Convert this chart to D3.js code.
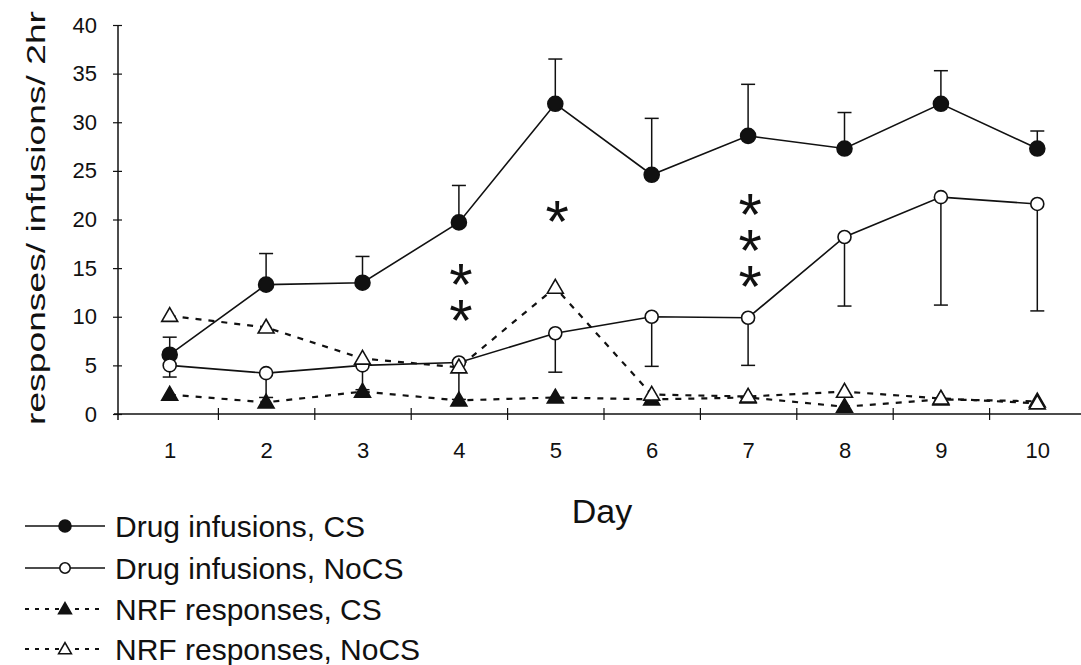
<!DOCTYPE html>
<html>
<head>
<meta charset="utf-8">
<script src="https://cdn.jsdelivr.net/npm/d3@7/dist/d3.min.js"></script>
<style>
  body { margin: 0; background: #fff; }
  svg { display: block; }
</style>
</head>
<body>
<div id="chart"></div>
<script>
// data
const days = [1, 2, 3, 4, 5, 6, 7, 8, 9, 10];
const drugCS = [6.1, 13.3, 13.5, 19.7, 31.9, 24.6, 28.6, 27.3, 31.9, 27.3];
const drugCSErr = [1.8, 3.2, 2.7, 3.8, 4.6, 5.8, 5.3, 3.7, 3.4, 1.8];
const drugNoCS = [5.0, 4.2, 5.0, 5.3, 8.3, 10.0, 9.9, 18.2, 22.3, 21.6];
const drugNoCSErr = [1.2, 2.5, 2.5, 3.8, 4.0, 5.1, 4.9, 7.1, 11.1, 11.0];
const nrfCS = [2.0, 1.2, 2.3, 1.4, 1.7, 1.5, 1.7, 0.75, 1.5, 1.3];
const nrfNoCS = [10.1, 8.9, 5.7, 4.8, 13.0, 2.0, 1.8, 2.3, 1.6, 1.1];
const yTicks = [0, 5, 10, 15, 20, 25, 30, 35, 40];
const legendLabels = ["Drug infusions, CS", "Drug infusions, NoCS", "NRF responses, CS", "NRF responses, NoCS"];
// significance stars: day, how many, value level of the top star
const sigDays = [4, 5, 7];
const sigCounts = [2, 1, 3];
const sigLevels = [14.8, 21.3, 22.0];

const width = 1081, height = 665;
const font = "'Liberation Sans', Arial, sans-serif";

const svg = d3.select("#chart").append("svg")
    .attr("width", width)
    .attr("height", height)
    .style("background", "#fff");

const x = d3.scaleLinear().domain([0.5, 10.5]).range([121.5, 1085.5]);
const y = d3.scaleLinear().domain([0, 40]).range([414, 25]);
const axisX = 118;

// y axis
const yAxis = svg.append("g")
    .attr("transform", `translate(${axisX},0)`)
    .call(d3.axisLeft(y).tickValues(yTicks).tickSize(5).tickPadding(16));
yAxis.select(".domain").remove();
yAxis.append("line")
    .attr("y1", y(40)).attr("y2", y(0) + 6)
    .attr("stroke", "#111").attr("stroke-width", 1.5);
yAxis.selectAll(".tick line").attr("x1", 4).attr("x2", -5).attr("stroke", "#111").attr("stroke-width", 1.2);
yAxis.selectAll(".tick text")
    .attr("font-family", font).attr("font-size", 22).attr("fill", "#111");

// x axis: boundary ticks + day labels
const xTickG = svg.append("g")
    .attr("transform", `translate(0,${y(0)})`)
    .call(d3.axisBottom(x).tickValues(days.slice(0, 9).map(d => d + 0.5)).tickSize(6).tickFormat(""));
xTickG.select(".domain").remove();
xTickG.selectAll(".tick line").attr("y1", -6).attr("y2", 6).attr("stroke", "#111").attr("stroke-width", 1.2);
xTickG.append("line")
    .attr("x1", axisX - 4).attr("x2", width)
    .attr("stroke", "#111").attr("stroke-width", 1.5);

const xLab = svg.append("g")
    .attr("transform", `translate(0,${y(0)})`)
    .call(d3.axisBottom(x).tickValues(days).tickSize(0).tickPadding(28).tickFormat(d3.format("d")));
xLab.select(".domain").remove();
xLab.selectAll(".tick text")
    .attr("font-family", font).attr("font-size", 22).attr("fill", "#111");

// axis titles
svg.append("text")
    .attr("x", 602).attr("y", 523)
    .attr("text-anchor", "middle")
    .attr("font-family", font).attr("font-size", 34).attr("fill", "#111")
    .text("Day");

svg.append("text")
    .attr("transform", "translate(45,218) rotate(-90)")
    .attr("text-anchor", "middle")
    .attr("font-family", font).attr("font-size", 25).attr("fill", "#111")
    .attr("textLength", 414).attr("lengthAdjust", "spacingAndGlyphs")
    .text("responses/ infusions/ 2hr");

// error bars
const capW = 7;
function errBars(vals, errs, dir) {
    const g = svg.append("g").attr("stroke", "#111").attr("stroke-width", 1.5);
    days.forEach((d, i) => {
        const y0 = y(vals[i]), y1 = y(vals[i] + dir * errs[i]);
        g.append("line").attr("x1", x(d)).attr("x2", x(d)).attr("y1", y0).attr("y2", y1);
        g.append("line").attr("x1", x(d) - capW).attr("x2", x(d) + capW).attr("y1", y1).attr("y2", y1);
    });
}
errBars(drugCS, drugCSErr, 1);
errBars(drugNoCS, drugNoCSErr, -1);

// lines
const line = d3.line().x((v, i) => x(days[i])).y(v => y(v));
const series = [
    { vals: drugCS, dash: null, shape: "circle", fill: "#111" },
    { vals: drugNoCS, dash: null, shape: "circle", fill: "#fff" },
    { vals: nrfCS, dash: "6,7", shape: "triangle", fill: "#111" },
    { vals: nrfNoCS, dash: "6,7", shape: "triangle", fill: "#fff" }
];

series.forEach(s => {
    svg.append("path")
        .attr("d", line(s.vals))
        .attr("fill", "none")
        .attr("stroke", "#111")
        .attr("stroke-width", s.dash ? 2.2 : 1.6)
        .attr("stroke-dasharray", s.dash);
});

const triPath = d3.symbol().type(d3.symbolTriangle);
function marker(g, shape, fill, cx, cy, scale) {
    if (shape === "circle") {
        g.append("circle")
            .attr("cx", cx).attr("cy", cy)
            .attr("r", (fill === "#fff" ? 6.5 : 7.5) * scale)
            .attr("fill", fill).attr("stroke", "#111").attr("stroke-width", 1.6);
    } else {
        g.append("path")
            .attr("d", triPath.size(110 * scale * scale)())
            .attr("transform", `translate(${cx},${cy + 1})`)
            .attr("fill", fill).attr("stroke", "#111").attr("stroke-width", 1.6);
    }
}

series.forEach(s => {
    const g = svg.append("g");
    s.vals.forEach((v, i) => marker(g, s.shape, s.fill, x(days[i]), y(v), 1));
});

// significance stars, one text per day with a tspan per star
sigDays.forEach((d, i) => {
    const t = svg.append("text")
        .attr("text-anchor", "middle")
        .attr("font-family", font).attr("font-size", 60).attr("fill", "#111");
    for (let k = 0; k < sigCounts[i]; k++) {
        t.append("tspan")
            .attr("x", x(d) + 2)
            .attr("y", y(sigLevels[i]) + k * 36)
            .attr("dy", "0.58em")
            .text("*");
    }
});

// legend
const legRows = [526, 568, 609, 649];
legendLabels.forEach((lab, i) => {
    const s = series[i];
    const g = svg.append("g").attr("transform", `translate(0,${legRows[i]})`);
    g.append("line")
        .attr("x1", 25).attr("x2", 105)
        .attr("stroke", "#111")
        .attr("stroke-width", s.dash ? 2 : 1.6)
        .attr("stroke-dasharray", s.dash ? "4,6" : null);
    marker(g, s.shape, s.fill, 65, 0, 0.8);
    g.append("text")
        .attr("x", 115).attr("y", 11)
        .attr("font-family", font).attr("font-size", 30).attr("fill", "#111")
        .text(lab);
});
</script>
</body>
</html>
